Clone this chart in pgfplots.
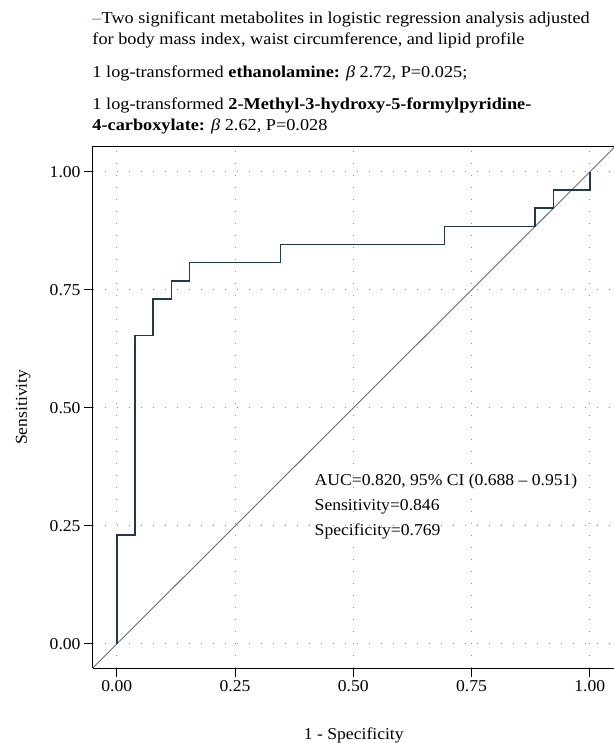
\documentclass[border=0pt]{standalone}
\usepackage{fontspec}
\setmainfont{Liberation Serif}[FakeStretch=1.06]
\newfontfamily\titlefont{Liberation Serif}[FakeStretch=1.1, Ligatures=TeX]
\usepackage{pgfplots}
\pgfplotsset{compat=1.18}

\definecolor{rocblue}{RGB}{30,55,90}
\definecolor{dashblue}{RGB}{80,120,170}
\newcommand{\fs}{\fontsize{16.6bp}{20bp}\selectfont}

\begin{document}
\begin{tikzpicture}
  \begin{axis}[
    at={(0,0)}, anchor=south west,
    scale only axis, width=522.2bp, height=521.6bp,
    xmin=-0.051, xmax=1.053, ymin=-0.051, ymax=1.054,
    axis x line=box, axis y line=left,
    x axis line style={-}, y axis line style={-},
    axis line style={black, line width=0.9bp},
    xtick pos=left, ytick pos=left,
    xtick={0,0.25,0.5,0.75,1}, ytick={0,0.25,0.5,0.75,1},
    tick align=outside, major tick length=9bp,
    tick style={black, line width=0.9bp},
    grid=major,
    major grid style={gray!85, line width=1.1bp, dash pattern=on 1.3bp off 10.7bp},
    /pgf/number format/.cd, fixed, fixed zerofill, precision=2, assume math mode=true,
    /pgfplots/.cd,
    tick label style={font=\fs},
    yticklabel style={inner sep=0pt, xshift=-3bp},
    xticklabel style={inner sep=0pt, yshift=-3bp},
    xlabel={1 - Specificity}, ylabel={Sensitivity},
    every axis x label/.style={at={(rel axis cs:0.5,0)}, anchor=base, yshift=-71bp, font=\fs},
    every axis y label/.style={at={(rel axis cs:0,0.5)}, xshift=-65.7bp, anchor=base, rotate=90, font=\fs},
  ]
    % chance line
    \addplot[gray!85!black, line width=0.9bp] coordinates {(-0.051,-0.051) (1.06,1.06)};
    % ROC curve
    \addplot[rocblue, line width=1.5bp, const plot] coordinates {
      (0,0) (0,0.2308) (0.0385,0.6538) (0.0769,0.7308) (0.1154,0.7692)
      (0.1538,0.8077) (0.3462,0.8462) (0.6923,0.8846) (0.8846,0.9231)
      (0.9231,0.9615) (1,1)
    };
    \node[anchor=base west, font=\fs, inner sep=0pt] at (axis cs:0.418,0.336) {AUC=0.820, 95\% CI (0.688 -- 0.951)};
    \node[anchor=base west, font=\fs, inner sep=0pt] at (axis cs:0.418,0.283) {Sensitivity=0.846};
    \node[anchor=base west, font=\fs, inner sep=0pt] at (axis cs:0.418,0.230) {Specificity=0.769};
  \end{axis}
  % heading text above the plot
  \begin{scope}[every node/.style={anchor=base west, inner sep=0pt, font=\titlefont\fs}]
    \node at (-0.4bp,644.7bp) {\textcolor{dashblue}{–}Two significant metabolites in logistic regression analysis adjusted};
    \node at (-0.4bp,623.7bp) {for body mass index, waist circumference, and lipid profile};
    \node at (-0.4bp,590.3bp) {1 log-transformed \textbf{ethanolamine:} \textit{β} 2.72, P=0.025;};
    \node at (-0.4bp,558bp) {1 log-transformed \textbf{2-Methyl-3-hydroxy-5-formylpyridine-}};
    \node at (-0.4bp,537.5bp) {\textbf{4-carboxylate:} \textit{β} 2.62, P=0.028};
  \end{scope}
  \pgfresetboundingbox
  \useasboundingbox (-92.7bp,-75bp) rectangle (521.3bp,668bp);
\end{tikzpicture}
\end{document}
